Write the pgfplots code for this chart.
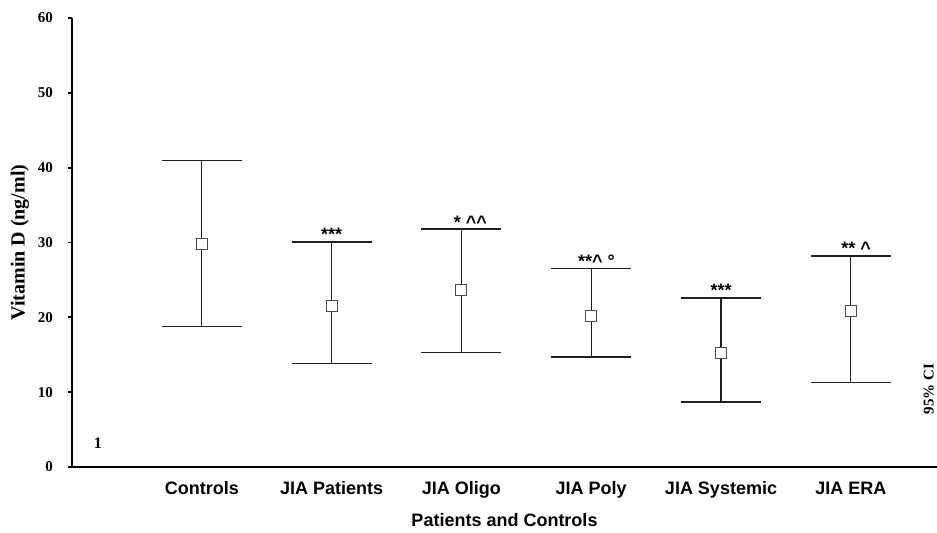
\documentclass[border=0pt]{standalone}
\usepackage{fontspec}
\setmainfont{Liberation Serif}
\newfontfamily\sans{Liberation Sans}
\usepackage{pgfplots}
\usepackage{pgfplotstable}
\pgfplotsset{compat=1.18}
\pgfplotstableread{
x y ep em
1 29.8 11.15 11.04
2 21.5 8.6 7.7
3 23.6 8.2 8.3
4 20.2 6.3 5.5
5 15.3 7.3 6.6
6 20.9 7.3 9.6
}\data
\definecolor{ink}{gray}{0.12}
\begin{document}
\begin{tikzpicture}
\begin{axis}[
 scale only axis, width=432.5pt, height=224.5pt,
 xmin=0, xmax=6.664, ymin=0, ymax=60,
 axis x line=bottom, axis y line=left,
 axis line style={-, line width=0.8pt, black},
 ytick={0,10,...,60},
 xtick={1,...,6},
 xticklabels={Controls, JIA Patients, JIA Oligo, JIA Poly, JIA Systemic, JIA ERA},
 x tick style={draw=none},
 y tick style={line width=0.9pt, black},
 tick align=outside, major tick length=2pt,
 xticklabel style={font=\sans\bfseries\fontsize{9}{10}\selectfont, yshift=-1pt, text depth=2pt, text height=7pt},
 yticklabel style={font=\bfseries\fontsize{7.5}{9}\selectfont, xshift=-4pt},
 /pgf/number format/assume math mode=true,
 xlabel={Patients and Controls},
 ylabel={Vitamin D (ng/ml)},
 xlabel style={font=\sans\bfseries\fontsize{9}{10}\selectfont, at={(axis description cs:0.5,-0.118)}, anchor=center},
 ylabel style={font=\bfseries\fontsize{10}{11}\selectfont, at={(axis description cs:-0.0601,0.5)}, anchor=center},
 clip=false,
]
\addplot[ink, line width=0.65pt, only marks, mark=square*, mark size=2.75pt,
  mark options={fill=white, draw=gray!60!black, line width=0.5pt},
  error bars/.cd, y dir=both, y explicit, error mark=|,
  error mark options={line width=0.75pt, mark size=20pt, ink},
  error bar style={line width=0.65pt, ink}]
  table[x=x, y=y, y error plus=ep, y error minus=em]{\data};
\begin{scope}[every node/.style={font=\sans\bfseries\fontsize{9}{10}\selectfont, anchor=base, inner sep=0pt, yshift=0.5pt}]
\node at (axis cs:2,30.1) {***};
\node at (axis cs:3.07,31.8) {* \textasciicircum\textasciicircum};
\node at (axis cs:4.04,26.5) {**\textasciicircum\ °};
\node at (axis cs:5,22.6) {***};
\node at (axis cs:6.04,28.2) {** \textasciicircum};
\end{scope}
\node[font=\bfseries\fontsize{8}{9}\selectfont] at (axis cs:0.2,3.2) {1};
\node[font=\bfseries\fontsize{7.5}{9}\selectfont, rotate=90] at (axis cs:6.60,10.4) {95\% CI};
\end{axis}
\pgfresetboundingbox
\path (-36pt,-32.5pt) rectangle (432.5pt,233.5pt);
\end{tikzpicture}
\end{document}
